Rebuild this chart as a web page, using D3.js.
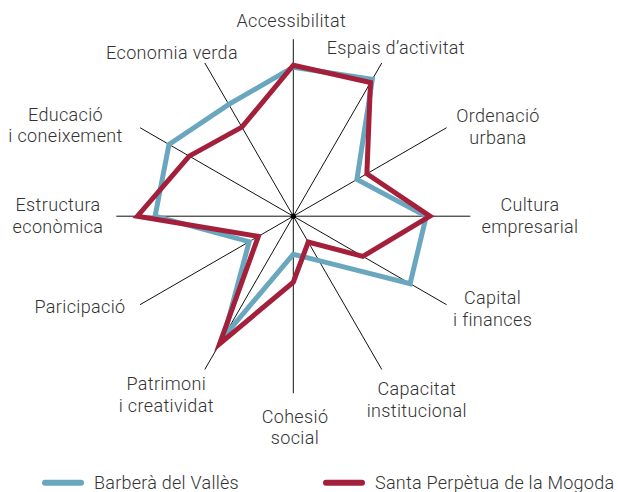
<!DOCTYPE html>
<html>
<head>
<meta charset="utf-8">
<script src="https://cdn.jsdelivr.net/npm/d3@7"></script>
<style>
  html, body { margin: 0; padding: 0; background: #fff; }
  svg { display: block; }
  text { font-family: Roboto, "Open Sans", sans-serif; font-weight: 300; fill: #333; }
</style>
</head>
<body>
<svg id="chart" width="618" height="492"></svg>
<script>
// ---- data ----
const categories = [
  ["Accessibilitat"],
  ["Espais d’activitat"],
  ["Ordenació", "urbana"],
  ["Cultura", "empresarial"],
  ["Capital", "i finances"],
  ["Capacitat", "institucional"],
  ["Cohesió", "social"],
  ["Patrimoni", "i creatividat"],
  ["Paricipació"],
  ["Estructura", "econòmica"],
  ["Educació", "i coneixement"],
  ["Economia verda"]
];
const seriesNames = ["Barberà del Vallès", "Santa Perpètua de la Mogoda"];
const barbera  = [8.42, 8.93, 4.15, 7.51, 7.62, 2.90, 2.15, 7.85, 2.88, 7.81, 8.11, 7.29];
const santaPerpetua = [8.53, 8.72, 4.80, 7.72, 4.54, 1.69, 3.73, 8.33, 2.28, 8.81, 6.79, 5.81];

// ---- layout ----
const cx = 293.3, cy = 216.2, R = 177;
const colors = ["#69a7bf", "#a31f3a"];
// label nudges relative to axis end: [dx of block centre, dy of first baseline]
const labelNudge = [
  [-2, -12.5], [14, -9], [51.4, -5.4], [59.7, -5.2], [46, -0.7], [35, 25.5],
  [1.7, 29.5], [-38.5, 20.5], [-60, 8.6], [-58.3, -5.2], [-74.5, -7], [-32.8, -3.6]
];

const svg = d3.select("#chart");
const r = d3.scaleLinear().domain([0, 10]).range([0, R]);
const angle = d3.scaleLinear().domain([0, categories.length]).range([0, 2 * Math.PI]);
const px = (i, v) => cx + r(v) * Math.sin(angle(i));
const py = (i, v) => cy - r(v) * Math.cos(angle(i));

// axes
svg.append("g").selectAll("line").data(categories).join("line")
  .attr("x1", cx).attr("y1", cy)
  .attr("x2", (d, i) => px(i, 10)).attr("y2", (d, i) => py(i, 10))
  .attr("stroke", "#111").attr("stroke-width", 1);

svg.append("circle").attr("cx", cx).attr("cy", cy).attr("r", 2.6).attr("fill", "#000");

// series
const line = d3.lineRadial()
  .angle((d, i) => angle(i))
  .radius(d => r(d))
  .curve(d3.curveLinearClosed);

const g = svg.append("g").attr("transform", `translate(${cx},${cy})`);
[barbera, santaPerpetua].forEach((vals, k) => {
  g.append("path")
    .attr("d", line(vals))
    .attr("fill", "none")
    .attr("stroke", colors[k])
    .attr("stroke-width", 5)
    .attr("stroke-linejoin", "miter")
    .attr("stroke-miterlimit", 10);
});

// labels
const lab = svg.append("g").attr("font-size", 18).attr("letter-spacing", 0.35);
categories.forEach((lines, i) => {
  const x = px(i, 10) + labelNudge[i][0];
  const y = py(i, 10) + labelNudge[i][1];
  const t = lab.append("text").attr("text-anchor", "middle");
  lines.forEach((s, j) => {
    t.append("tspan").attr("x", x).attr("y", y + j * 21.7).text(s);
  });
});

// legend
const legendX = [42, 323];
const leg = svg.append("g");
seriesNames.forEach((name, k) => {
  leg.append("line")
    .attr("x1", legendX[k] + 3).attr("x2", legendX[k] + 39)
    .attr("y1", 482.7).attr("y2", 482.7)
    .attr("stroke", colors[k]).attr("stroke-width", 6)
    .attr("stroke-linecap", "round");
  leg.append("text")
    .attr("x", legendX[k] + 52).attr("y", 489.3)
    .attr("font-size", 18)
    .attr("letter-spacing", 0.25)
    .text(name);
});
</script>
</body>
</html>
